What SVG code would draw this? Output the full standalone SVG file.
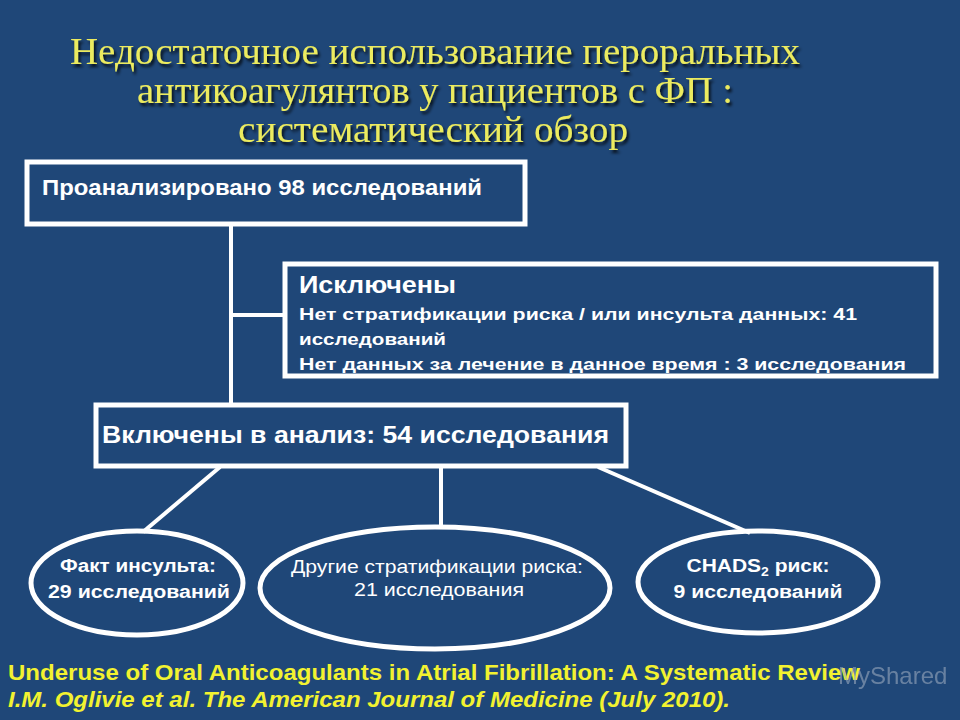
<svg xmlns="http://www.w3.org/2000/svg" width="960" height="720" viewBox="0 0 960 720">
<defs>
<filter id="sh" x="-5%" y="-20%" width="110%" height="150%"><feDropShadow dx="2" dy="3" stdDeviation="1.5" flood-color="#000" flood-opacity="0.8"/></filter>
</defs>
<style>
.box{fill:none;stroke:#fff;stroke-width:5}
.ell{fill:none;stroke:#fff;stroke-width:5}
.ln{stroke:#fff;stroke-width:4;fill:none}
.t{font-family:"Liberation Sans",Arial,sans-serif;fill:#fff}
.b{font-weight:bold}
.title{font-family:"Liberation Serif","DejaVu Serif",serif;fill:#ECEB5E;font-size:38px;text-anchor:middle}
.ft{font-family:"Liberation Sans",Arial,sans-serif;fill:#F2F230;font-weight:bold;font-size:22px}
</style>
<rect width="960" height="720" fill="#1F4778"/>
<g id="title" filter="url(#sh)">
<text class="title" x="435" y="64" textLength="730" lengthAdjust="spacingAndGlyphs">Недостаточное использование пероральных</text>
<text class="title" x="435" y="103" textLength="596" lengthAdjust="spacingAndGlyphs">антикоагулянтов у пациентов с ФП :</text>
<text class="title" x="433" y="142" textLength="390" lengthAdjust="spacingAndGlyphs">систематический обзор</text>
</g>
<g id="connectors">
<line class="ln" x1="231" y1="225" x2="231" y2="405"/>
<line class="ln" x1="231" y1="315" x2="285" y2="315"/>
<line class="ln" x1="220" y1="467" x2="143" y2="532"/>
<line class="ln" x1="441" y1="467" x2="441" y2="527"/>
<line class="ln" x1="598" y1="467" x2="750" y2="533"/>
</g>
<g id="n1">
<rect class="box" x="27" y="162" width="498" height="62"/>
<text class="t b" x="42" y="195" font-size="22" textLength="440" lengthAdjust="spacingAndGlyphs">Проанализировано 98 исследований</text>
</g>
<g id="n2">
<rect class="box" x="285" y="264" width="651" height="112"/>
<text class="t b" x="299" y="293" font-size="23" textLength="157" lengthAdjust="spacingAndGlyphs">Исключены</text>
<text class="t b" x="299" y="320" font-size="17" textLength="558" lengthAdjust="spacingAndGlyphs">Нет стратификации риска / или инсульта данных: 41</text>
<text class="t b" x="299" y="345" font-size="17" textLength="147" lengthAdjust="spacingAndGlyphs">исследований</text>
<text class="t b" x="299" y="370" font-size="17" textLength="607" lengthAdjust="spacingAndGlyphs">Нет данных за лечение в данное время : 3 исследования</text>
</g>
<g id="n3">
<rect class="box" x="96" y="405" width="530" height="61"/>
<text class="t b" x="102" y="443" font-size="24" textLength="507" lengthAdjust="spacingAndGlyphs">Включены в анализ: 54 исследования</text>
</g>
<g id="e1">
<ellipse class="ell" cx="137" cy="583" rx="106" ry="52"/>
<text class="t b" x="138" y="572" font-size="18" text-anchor="middle" textLength="156" lengthAdjust="spacingAndGlyphs">Факт инсульта:</text>
<text class="t b" x="139" y="598" font-size="18" text-anchor="middle" textLength="182" lengthAdjust="spacingAndGlyphs">29 исследований</text>
</g>
<g id="e2">
<ellipse class="ell" cx="435" cy="588" rx="175" ry="61"/>
<text class="t" x="437" y="573" font-size="18" text-anchor="middle" textLength="292" lengthAdjust="spacingAndGlyphs">Другие стратификации риска:</text>
<text class="t" x="439" y="596" font-size="18" text-anchor="middle" textLength="170" lengthAdjust="spacingAndGlyphs">21 исследования</text>
</g>
<g id="e3">
<ellipse class="ell" cx="758" cy="582" rx="120" ry="51"/>
<text class="t b" x="758" y="572" font-size="18" text-anchor="middle" textLength="143" lengthAdjust="spacingAndGlyphs">CHADS<tspan font-size="12" dy="4">2</tspan><tspan dy="-4"> риск:</tspan></text>
<text class="t b" x="758" y="598" font-size="18" text-anchor="middle" textLength="169" lengthAdjust="spacingAndGlyphs">9 исследований</text>
</g>
<g id="footer">
<text class="ft" x="8" y="680" textLength="852" lengthAdjust="spacingAndGlyphs">Underuse of Oral Anticoagulants in Atrial Fibrillation: A Systematic Review</text>
<text class="ft" x="8" y="707" font-style="italic" textLength="722" lengthAdjust="spacingAndGlyphs">I.M. Oglivie et al. The American Journal of  Medicine (July 2010).</text>
</g>
<text x="838" y="684" font-family="Liberation Sans,Arial,sans-serif" font-size="24" fill="#9aa9bd" opacity="0.6">MyShared</text>
</svg>
